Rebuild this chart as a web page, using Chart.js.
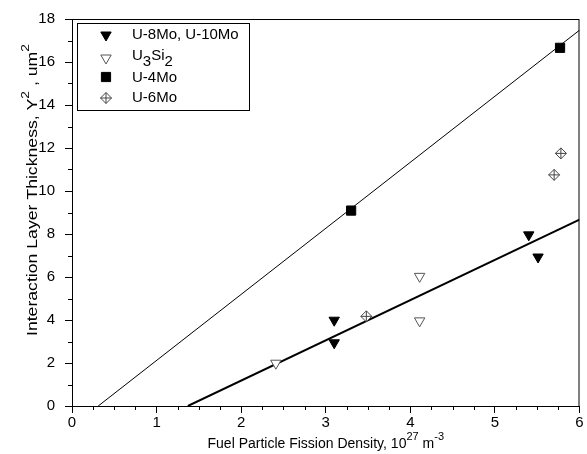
<!DOCTYPE html>
<html>
<head>
<meta charset="utf-8">
<script src="https://cdn.jsdelivr.net/npm/chart.js@4.4.1/dist/chart.umd.min.js"></script>
<style>
  html, body { margin: 0; padding: 0; background: #fff; }
  #wrap { width: 587px; height: 454px; }
</style>
</head>
<body>
<div id="wrap"><canvas id="chart" width="587" height="454"></canvas></div>
<script>
// values
const FISSION_U8_10 = [3.10, 3.10, 5.40, 5.51];
const THICK_U8_10 = [3.99, 2.94, 7.96, 6.93];
const FISSION_U3SI2 = [2.41, 4.11, 4.11];
const THICK_U3SI2 = [1.99, 6.03, 3.96];
const FISSION_U4 = [3.30, 5.77];
const THICK_U4 = [9.09, 16.66];
const FISSION_U6 = [3.48, 5.70, 5.78];
const THICK_U6 = [4.17, 10.75, 11.75];

// fitted lines (end points)
const FIT_UPPER_X = [0.31, 6];
const FIT_UPPER_Y = [0, 17.48];
const FIT_LOWER_X = [1.37, 6];
const FIT_LOWER_Y = [0, 8.67];

const X_TICKS = [0, 1, 2, 3, 4, 5, 6];
const Y_TICKS = [0, 2, 4, 6, 8, 10, 12, 14, 16, 18];

const FONT = "'Liberation Sans', Arial, sans-serif";

const punkty = (xs, ys) => xs.map((x, i) => ({ x, y: ys[i] }));

// tekst z indeksami gornymi/dolnymi: [tekst, rozmiar, przesuniecie]
function szerokosc(ctx, czesci) {
    let w = 0;
    czesci.forEach(([t, size]) => {
        ctx.font = size + 'px ' + FONT;
        w += ctx.measureText(t).width;
    });
    return w;
}

function rysujTekst(ctx, czesci, x, y) {
    let cx = x;
    czesci.forEach(([t, size, dy]) => {
        ctx.font = size + 'px ' + FONT;
        ctx.fillText(t, cx, y + dy);
        cx += ctx.measureText(t).width;
    });
}

// ds: indeksy zbiorow, ktorych symbol rysujemy w legendzie
const LEGENDA = [
    { ds: [0], y: 35, sy: 35, tekst: [['U-8Mo, U-10Mo', 15, 0]] },
    { ds: [1], y: 56, sy: 58, tekst: [['U', 15, 0], ['3', 15, 6], ['Si', 15, 0], ['2', 15, 6]] },
    { ds: [2], y: 78, sy: 77, tekst: [['U-4Mo', 15, 0]] },
    { ds: [3, 4], y: 98, sy: 98, tekst: [['U-6Mo', 15, 0]] }
];

const dodatki = {
    id: 'dodatki',
    afterDraw(chart) {
        const ctx = chart.ctx;
        const a = chart.chartArea;
        const sx = chart.scales.x, sy = chart.scales.y;
        ctx.save();
        ctx.strokeStyle = '#000';
        ctx.lineWidth = 1;

        // ramka
        ctx.strokeRect(a.left + 0.5, a.top + 0.5, a.right - a.left - 1, a.bottom - a.top);

        // drobne podzialki
        ctx.beginPath();
        for (let v = 0.25; v < 6; v += 0.25) {
            if (Math.abs(v - Math.round(v)) < 1e-6) continue;
            const px = Math.round(sx.getPixelForValue(v)) + 0.5;
            ctx.moveTo(px, a.bottom);
            ctx.lineTo(px, a.bottom + 4);
        }
        for (let v = 1; v < 18; v += 2) {
            const py = Math.round(sy.getPixelForValue(v)) + 0.5;
            ctx.moveTo(a.left, py);
            ctx.lineTo(a.left - 4, py);
        }
        ctx.stroke();

        // legenda
        ctx.fillStyle = '#fff';
        ctx.fillRect(77.5, 23.5, 172, 87);
        ctx.strokeRect(77.5, 23.5, 172, 87);
        ctx.textBaseline = 'middle';
        ctx.textAlign = 'left';
        LEGENDA.forEach(w => {
            w.ds.forEach(i => {
                const ds = chart.data.datasets[i];
                ctx.fillStyle = ds.backgroundColor;
                ctx.strokeStyle = ds.borderColor;
                ctx.lineWidth = ds.borderWidth;
                Chart.helpers.drawPoint(ctx, {
                    pointStyle: ds.pointStyle,
                    rotation: ds.rotation || 0,
                    radius: ds.pointRadius,
                    borderWidth: ds.borderWidth
                }, 106, w.sy);
            });
            ctx.fillStyle = '#000';
            rysujTekst(ctx, w.tekst, 132, w.y);
        });

        // tytul osi X
        ctx.fillStyle = '#000';
        ctx.textBaseline = 'alphabetic';
        const tx = [['Fuel Particle Fission Density, 10', 14, 0], ['27', 11, -8], [' m', 14, 0], ['-3', 11, -8]];
        const wx = szerokosc(ctx, tx);
        rysujTekst(ctx, tx, (a.left + a.right) / 2 - wx / 2, 448);

        // tytul osi Y
        const ty = [['Interaction Layer Thickness, Y', 14, 0], ['2', 11, -8], [' , um', 14, 0], ['2', 11, -8]];
        const wy = szerokosc(ctx, ty);
        const skala = 292 / wy;
        ctx.translate(37, 190);
        ctx.rotate(-Math.PI / 2);
        ctx.scale(skala, 1);
        rysujTekst(ctx, ty, -wy / 2, 0);
        ctx.restore();
    }
};

const wykres = new Chart(document.getElementById('chart'), {
    type: 'scatter',
    data: {
        datasets: [
            {
                label: 'U-8Mo, U-10Mo',
                data: punkty(FISSION_U8_10, THICK_U8_10),
                pointStyle: 'triangle', rotation: 180, pointRadius: 6,
                backgroundColor: '#000', borderColor: '#000', borderWidth: 1
            },
            {
                label: 'U3Si2',
                data: punkty(FISSION_U3SI2, THICK_U3SI2),
                pointStyle: 'triangle', rotation: 180, pointRadius: 6,
                backgroundColor: '#fff', borderColor: '#555', borderWidth: 1
            },
            {
                label: 'U-4Mo',
                data: punkty(FISSION_U4, THICK_U4),
                pointStyle: 'rect', pointRadius: 6.5,
                backgroundColor: '#000', borderColor: '#000', borderWidth: 1
            },
            {
                label: 'U-6Mo',
                data: punkty(FISSION_U6, THICK_U6),
                pointStyle: 'rectRot', pointRadius: 5.5,
                backgroundColor: '#fff', borderColor: '#444', borderWidth: 1, order: 1
            },
            {
                label: 'U-6Mo cross',
                data: punkty(FISSION_U6, THICK_U6),
                pointStyle: 'cross', pointRadius: 5.5,
                backgroundColor: '#fff', borderColor: '#444', borderWidth: 1, order: 0
            },
            {
                type: 'line',
                label: 'fit upper',
                data: punkty(FIT_UPPER_X, FIT_UPPER_Y),
                borderColor: '#000', borderWidth: 1, pointRadius: 0, showLine: true, order: 10
            },
            {
                type: 'line',
                label: 'fit lower',
                data: punkty(FIT_LOWER_X, FIT_LOWER_Y),
                borderColor: '#000', borderWidth: 2, pointRadius: 0, showLine: true, order: 10
            }
        ]
    },
    options: {
        responsive: false,
        animation: false,
        events: [],
        layout: { padding: { top: 18, right: 6, left: 0, bottom: 0 } },
        plugins: { legend: { display: false }, tooltip: { enabled: false } },
        scales: {
            x: {
                type: 'linear', min: 0, max: 6,
                afterFit: s => { s.height = 48; },
                afterBuildTicks: s => { s.ticks = X_TICKS.map(v => ({ value: v })); },
                grid: { drawOnChartArea: false, drawTicks: true, tickLength: 7, color: '#000' },
                border: { display: true, color: '#000', width: 1 },
                ticks: { color: '#000', padding: 1, maxRotation: 0, font: { family: FONT, size: 15 } }
            },
            y: {
                type: 'linear', min: 0, max: 18,
                afterFit: s => { s.width = 72; },
                afterBuildTicks: s => { s.ticks = Y_TICKS.map(v => ({ value: v })); },
                grid: { drawOnChartArea: false, drawTicks: true, tickLength: 7, color: '#000' },
                border: { display: true, color: '#000', width: 1 },
                ticks: { color: '#000', padding: 10, font: { family: FONT, size: 15 } }
            }
        }
    },
    plugins: [dodatki]
});
</script>
</body>
</html>
